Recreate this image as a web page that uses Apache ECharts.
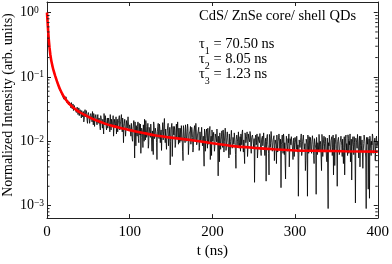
<!DOCTYPE html>
<html><head><meta charset="utf-8">
<script src="https://cdn.jsdelivr.net/npm/echarts@6/dist/echarts.min.js"></script>
<style>html,body{margin:0;padding:0;background:#fff}#c{width:392px;height:264px}</style>
</head><body><div id="c"></div>
<script>
// Measured decay: samples at whole ns (t = 0..400) and at half ns (t = 0.5..399.5)
const wholeNsValues = [
1.0,0.6,0.41,0.28,0.23,0.18,0.165,0.135,0.128,0.11,0.105,0.09,0.088,0.076,0.075,0.066,0.064,0.057,0.058,0.051,0.052,
.047,.044,.049,.040,.043,.037,.041,.039,.033,.037,.034,.030,.036,.031,.033,.027,.032,.029,.025,.031,
.027,.030,.024,.029,.022,.031,.025,.027,.019,.028,.024,.021,.027,.023,.029,.018,.025,.022,.026,.020,
.024,.019,.023,.017,.025,.021,.016,.022,.027,.018,.021,.015,.023,.019,.024,.014,.020,.022,.017,.025,
.016,.021,.019,.013,.022,.018,.023,.015,.020,.026,.014,.019,.017,.022,.012,.021,.016,.024,.015,.018,
.0135,.0190,.0110,.0160,.0210,.0055,.0140,.0175,.0120,.0200,.0095,.0150,.0185,.0115,.0160,.0080,.0145,.0220,.0105,.0170,
.0125,.0190,.0090,.0150,.0115,.0175,.0070,.0140,.0200,.0110,.0160,.0130,.0052,.0170,.0120,.0185,.0095,.0150,.0125,.0195,
.0140,.0226,.0095,.0160,.0120,.0175,.0085,.0130,.0043,.0150,.0190,.0105,.0135,.0170,.0080,.0145,.0115,.0200,.0090,.0125,
.0160,.0100,.0140,.0070,.0175,.0120,.0095,.0150,.0110,.0185,.0062,.0130,.0145,.0090,.0165,.0115,.0080,.0135,.0105,.0190,
.0088,.0125,.0150,.0072,.0140,.0100,.0165,.0085,.0120,.0041,.0135,.0110,.0155,.0078,.0125,.0095,.0170,.0105,.0060,.0130,
.0115,.0145,.0082,.0125,.0098,.0160,.0029,.0110,.0135,.0075,.0120,.0090,.0150,.0068,.0105,.0130,.0085,.0140,.0095,.0055,
.0125,.0100,.0148,.0078,.0115,.0090,.0135,.0062,.0108,.0128,.0085,.0150,.0095,.0070,.0118,.0138,.0082,.0105,.0045,.0125,
.0092,.0140,.0075,.0112,.0098,.0130,.0065,.0108,.0120,.0080,
.0023,.0115,.0088,.0130,.0070,.0105,.0095,.0125,.0060,.0110,.0085,.0135,.0075,.0100,.0024,.0118,.0090,.0065,.0128,.0080,
.0142,.0095,.0072,.0112,.0050,.0105,.0088,.0125,.0068,.0098,.0115,.0078,.0019,.0108,.0092,.0130,.0062,.0100,.0085,.0120,
.0070,.0095,.0040,.0110,.0088,.0125,.0075,.0102,.0058,.0115,
.0090,.0120,.0068,.0014,.0105,.0080,.0115,.0060,.0098,.0125,.0075,.0092,.0050,.0110,.0014,.0085,.0118,.0070,.0100,.0065,
.0122,.0088,.0045,.0105,.0078,.0115,.0062,.0095,.0128,.0072,.0090,.0035,.0108,.0082,.0120,.0068,.0098,.0055,.0112,.0009,
.0085,.0118,.0075,.0100,.0060,.0125,.0088,.0042,.0105,.0078,.0020,.0095,.0115,.0068,.0090,.0122,.0058,.0102,.0080,.0030,
.0110,.0072,.0098,.0126,.0065,.0088,.0048,.0108,.0082,.0118,.0062,.0095,.0011,.0112,.0078,.0100,.0055,.0120,.0085,.0070,
.0105,.0038,.0092,.0125,.0068,.0009,.0098,.0115,.0075,.0013,.0102,.0060,.0088,.0120,.0072,.0095,.0050,.0110,.0082,.0100
];
const halfNsValues = [
.80,.50,.33,.26,.195,.175,.145,.136,.115,.110,.095,.093,.080,.079,.068,.067,.059,.060,.052,.053,
.045,.050,.041,.046,.039,.044,.035,.042,.036,.040,.032,.038,.029,.035,.032,.028,.034,.026,.033,.028,
.029,.023,.032,.026,.020,.028,.024,.030,.021,.026,.029,.019,.025,.028,.020,.024,.027,.017,.023,.025,
.018,.026,.020,.023,.015,.024,.019,.022,.013,.021,.025,.017,.020,.016,.023,.018,.026,.015,.021,.019,
.012,.022,.017,.024,.019,.014,.021,.025,.016,.020,.018,.023,.0095,.019,.022,.015,.020,.017,.023,.014,
.0165,.0120,.0185,.0100,.0155,.0130,.0200,.0085,.0145,.0170,.0110,.0190,.0125,.0065,.0160,.0140,.0180,.0100,.0135,.0210,
.0115,.0150,.0078,.0165,.0130,.0185,.0105,.0145,.0062,.0175,.0120,.0155,.0095,.0140,.0190,.0110,.0160,.0130,.0072,.0150,
.0105,.0180,.0130,.0155,.0075,.0145,.0190,.0115,.0165,.0100,.0140,.0058,.0170,.0125,.0150,.0090,.0185,.0120,.0135,.0160,
.0095,.0145,.0175,.0110,.0050,.0155,.0125,.0180,.0100,.0140,.0160,.0085,.0130,.0170,.0115,.0150,.0068,.0140,.0175,.0105,
.0150,.0095,.0130,.0165,.0080,.0145,.0115,.0170,.0098,.0128,.0155,.0070,.0138,.0112,.0160,.0090,.0145,.0052,.0120,.0150,
.0100,.0138,.0070,.0130,.0112,.0155,.0088,.0120,.0048,.0135,.0105,.0145,.0080,.0125,.0098,.0160,.0072,.0115,.0140,.0090,
.0130,.0062,.0120,.0145,.0085,.0110,.0135,.0095,.0038,.0125,.0100,.0140,.0078,.0118,.0130,.0088,.0150,.0068,.0112,.0135,
.0095,.0120,.0058,.0130,.0105,.0142,.0082,.0115,.0125,.0092,
.0110,.0078,.0125,.0095,.0055,.0118,.0102,.0132,.0072,.0108,.0120,.0085,.0138,.0060,.0112,.0098,.0128,.0080,.0030,.0115,
.0092,.0135,.0070,.0105,.0122,.0085,.0112,.0045,.0118,.0098,.0130,.0075,.0108,.0088,.0125,.0065,.0115,.0095,.0026,.0120,
.0082,.0110,.0130,.0068,.0100,.0118,.0088,.0052,.0112,.0095,
.0105,.0075,.0125,.0088,.0055,.0112,.0095,.0130,.0070,.0100,.0118,.0082,.0035,.0108,.0090,.0125,.0065,.0102,.0115,.0078,
.0098,.0130,.0060,.0110,.0088,.0015,.0118,.0095,.0072,.0122,.0100,.0085,.0128,.0058,.0105,.0092,.0115,.0075,.0048,.0110,
.0095,.0125,.0068,.0102,.0118,.0080,.0030,.0112,.0090,.0128,.0072,.0100,.0115,.0062,.0095,.0120,.0085,.0108,.0045,.0118,
.0078,.0125,.0092,.0060,.0110,.0100,.0130,.0070,.0025,.0105,.0088,.0118,.0065,.0112,.0095,.0128,.0075,.0102,.0040,.0120,
.0085,.0110,.0070,.0125,.0098,.0055,.0115,.0090,.0018,.0108,.0120,.0078,.0100,.0130,.0065,.0095,.0112,.0082,.0120,.0090
];
// Tri-exponential fit curve
const fitTimes = [0,1,2,3,4,5,6,7,8,10,12,14,16,18,20,23,26,30,35,40,45,50,60,70,80,90,100,115,130,145,160,180,200,225,250,275,300,330,360,400];
const fitValues = [1.0,0.62,0.40,0.29,0.225,0.185,0.16,0.14,0.125,0.103,0.086,0.073,0.063,0.056,0.050,0.044,0.039,0.035,0.031,0.028,0.026,0.024,0.021,0.0188,0.0172,0.0160,0.0149,0.0136,0.0124,0.0116,0.0110,0.0102,0.0093,0.0084,0.0079,0.0075,0.0072,0.0071,0.0070,0.0069];
const xTicks = [0,100,200,300,400];
const yMin = 0.00064, yMax = 1.46;
const minorTickValues = [0.0007,0.0008,0.0009,0.002,0.003,0.004,0.005,0.006,0.007,0.008,0.009,0.02,0.03,0.04,0.05,0.06,0.07,0.08,0.09,0.2,0.3,0.4,0.5,0.6,0.7,0.8,0.9];
const annotationTitle = 'CdS/ ZnSe core/ shell QDs';
const lifetimes = [['1','70.50 ns'],['2','8.05 ns'],['3','1.23 ns']];

const FONT = '"Liberation Serif","Times New Roman",serif';
const AX = '#222';
const chart = echarts.init(document.getElementById('c'), null, {renderer:'canvas'});
const decayData = [];
wholeNsValues.forEach((v,i)=>{
  decayData.push([i, v]);
  if (i < halfNsValues.length) decayData.push([i + 0.5, halfNsValues[i]]);
});
const fitData = fitTimes.map((t,i)=>[t, fitValues[i]]);

function yFmt(v){
  const e = Math.log10(v);
  if (Math.abs(e - Math.round(e)) > 1e-6) return '';
  const r = Math.round(e);
  return '{b|10}{s|' + (r < 0 ? '\u2212' + (-r) : String(r)) + '}';
}
const yRich = {
  b:{fontFamily:FONT,fontSize:14,color:'#000',lineHeight:14,verticalAlign:'bottom'},
  s:{fontFamily:FONT,fontSize:9.5,color:'#000',lineHeight:9.5,verticalAlign:'top',padding:[0,0,7,0]}
};
const lineStyleAx = {color:AX,width:1};
const rich = {
  t:{fontFamily:FONT,fontSize:14.5,color:'#000',lineHeight:16,verticalAlign:'top'},
  sub:{fontFamily:FONT,fontSize:10,color:'#000',lineHeight:10,verticalAlign:'top',padding:[9,0,0,0]}
};
const graphics = [
  {type:'text',left:199,top:9,style:{text:annotationTitle,font:'14.5px '+FONT,fill:'#000'}},
  {type:'text',x:8,y:105,rotation:Math.PI/2,style:{text:'Normalized Intensity (arb. units)',font:'14px '+FONT,fill:'#000',align:'center',verticalAlign:'middle'}}
];
lifetimes.forEach((lt,i)=>{
  graphics.push({type:'text',left:199,top:37+i*15,style:{text:'{t|\u03c4}{sub|'+lt[0]+'}{t| = '+lt[1]+'}',rich:rich}});
});

chart.setOption({
  animation:false,
  backgroundColor:'#fff',
  grid:{left:47,right:11,top:2,bottom:36,containLabel:false},
  xAxis:[
    {type:'value',min:0,max:400,interval:100,position:'bottom',
     axisLine:{show:true,onZero:false,lineStyle:lineStyleAx},
     axisTick:{show:true,inside:true,length:4,lineStyle:lineStyleAx},
     axisLabel:{fontFamily:FONT,fontSize:15,color:'#000',margin:6},
     splitLine:{show:false},
     name:'t (ns)',nameLocation:'middle',nameGap:21,nameTextStyle:{fontFamily:FONT,fontSize:15,color:'#000'}},
    {type:'value',min:0,max:400,interval:100,position:'top',
     axisLine:{show:true,onZero:false,lineStyle:lineStyleAx},
     axisTick:{show:true,inside:true,length:4,lineStyle:lineStyleAx},
     axisLabel:{show:false},splitLine:{show:false}}
  ],
  yAxis:[
    {type:'log',min:yMin,max:yMax,logBase:10,position:'left',
     axisLine:{show:true,onZero:false,lineStyle:lineStyleAx},
     axisTick:{show:true,inside:true,length:4,lineStyle:lineStyleAx},
     axisLabel:{formatter:yFmt,rich:yRich,align:'left',margin:27},
     splitLine:{show:false}},
    {type:'log',min:yMin,max:yMax,logBase:10,position:'right',
     axisLine:{show:true,onZero:false,lineStyle:lineStyleAx},
     axisTick:{show:true,inside:true,length:4,lineStyle:lineStyleAx},
     axisLabel:{show:false},splitLine:{show:false}}
  ],
  graphic:graphics,
  series:[
    {type:'line',data:decayData,showSymbol:false,symbol:'none',sampling:null,
     lineStyle:{color:'#000',width:0.8},z:2,silent:true},
    {type:'line',data:fitData,showSymbol:false,symbol:'none',smooth:0.2,
     lineStyle:{color:'#ff0000',width:2.6},z:3,silent:true},
    {type:'custom',data:minorTickValues.map(v=>[0,v]),encode:{x:0,y:1},clip:false,z:4,silent:true,
     renderItem:function(params,api){
       const v = api.value(1);
       const p = api.coord([0,v]);
       const q = api.coord([400,v]);
       const st = {stroke:AX,lineWidth:1};
       return {type:'group',children:[
         {type:'line',shape:{x1:p[0],y1:p[1],x2:p[0]+2.5,y2:p[1]},style:st},
         {type:'line',shape:{x1:q[0],y1:q[1],x2:q[0]-2.5,y2:q[1]},style:st}
       ]};
     }}
  ]
});
</script></body></html>
